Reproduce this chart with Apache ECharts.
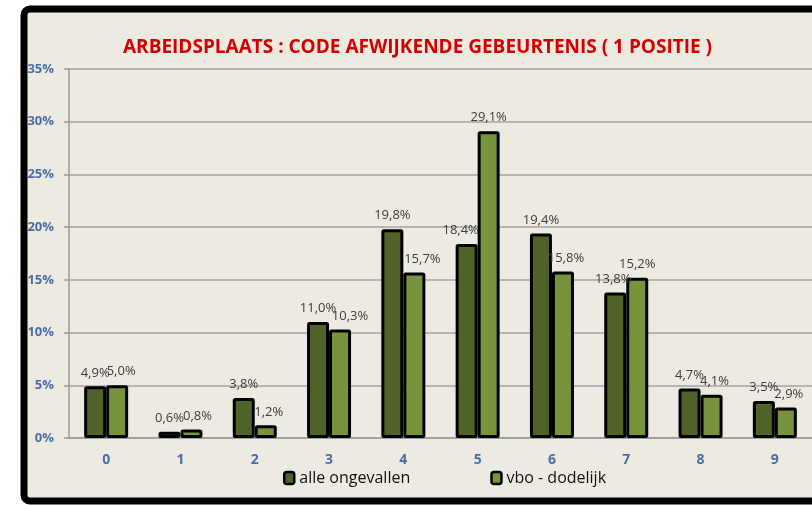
<!DOCTYPE html>
<html lang="nl">
<head>
<meta charset="UTF-8">
<title>Arbeidsplaats : code afwijkende gebeurtenis</title>
<script src="https://cdn.jsdelivr.net/npm/echarts@6.0.0/dist/echarts.min.js"></script>
<style>
  body { margin: 0; background: #fff; }
</style>
</head>
<body>
<div id="main" style="width:812px;height:505px;"></div>
<script>
  // categories (code afwijkende gebeurtenis) and the two series in %
  const categories = ['0', '1', '2', '3', '4', '5', '6', '7', '8', '9'];
  const alleOngevallen = [4.9, 0.6, 3.8, 11.0, 19.8, 18.4, 19.4, 13.8, 4.7, 3.5];
  const vboDodelijk = [5.0, 0.8, 1.2, 10.3, 15.7, 29.1, 15.8, 15.2, 4.1, 2.9];

  const chart = echarts.init(document.getElementById('main'));
  const fmt = p => p.value.toFixed(1).replace('.', ',') + '%';
  const labelStyle = {
    show: true, position: 'top', distance: 7, formatter: fmt,
    fontFamily: 'Open Sans', fontSize: 13, color: '#3c3c3c'
  };
  const blue = '#4A6DA7';
  const grey = '#9a9a9a';

  // Excel nudged some labels sideways to keep them apart (px)
  const alleNudge = { 5: -6, 7: -2 };
  const vboNudge = { 0: 4, 1: 6, 2: 3, 3: 10, 4: 8, 6: 3, 8: 3, 9: 3 };

  // the labels sit on transparent copies of the bars so no bar covers them
  const labelSeries = (name, data, nudge) => ({
    name: name, type: 'bar', xAxisIndex: 1, z: 10,
    barWidth: 22, barGap: '0%', silent: true,
    data: data.map((v, i) => ({ value: v, label: { offset: [nudge[i] || 0, 0] } })),
    itemStyle: { color: 'rgba(0,0,0,0)', borderWidth: 0 },
    label: labelStyle
  });

  chart.setOption({
    animation: false,
    textStyle: { fontFamily: 'Open Sans' },
    graphic: [
      { type: 'rect', z: -10, shape: { x: 24, y: 9, width: 900, height: 492, r: 6 },
        style: { fill: '#EDEBE1' } },
      { type: 'rect', z: 100, shape: { x: 24, y: 9, width: 900, height: 492, r: 6 },
        style: { fill: 'none', stroke: '#000', lineWidth: 7 } }
    ],
    title: {
      text: 'ARBEIDSPLAATS : CODE AFWIJKENDE GEBEURTENIS ( 1 POSITIE )',
      left: 118, top: 33,
      textStyle: { color: '#D40000', fontSize: 19, fontWeight: 'bold', fontFamily: 'Open Sans' }
    },
    legend: {
      left: 283, top: 470, padding: 0, itemWidth: 10, itemHeight: 12, itemGap: 80,
      textStyle: { fontSize: 16, color: '#111', fontFamily: 'Open Sans' },
      itemStyle: { borderColor: '#000', borderWidth: 2.5 },
      data: ['alle ongevallen', 'vbo - dodelijk']
    },
    grid: { left: 69, top: 69, width: 756, height: 369 },
    xAxis: [
      {
        type: 'category', data: categories,
        axisLine: { lineStyle: { color: grey, width: 1.5 } },
        axisTick: { length: 5, lineStyle: { color: grey, width: 1.5 } },
        axisLabel: { margin: 15, color: blue, fontWeight: 'bold', fontSize: 14 }
      },
      { type: 'category', data: categories, show: false }
    ],
    yAxis: {
      type: 'value', min: 0, max: 35, interval: 5,
      axisLine: { show: true, lineStyle: { color: grey, width: 1.5 } },
      axisTick: { show: true, length: 5, lineStyle: { color: grey, width: 1.5 } },
      axisLabel: { formatter: '{value}%', margin: 15, color: blue, fontWeight: 'bold', fontSize: 13 },
      splitLine: { lineStyle: { color: '#a3a3a3', width: 1.5 } }
    },
    series: [
      {
        name: 'alle ongevallen', type: 'bar', data: alleOngevallen,
        barWidth: 22, barGap: '0%',
        itemStyle: { color: '#4F6228', borderColor: '#000', borderWidth: 3, borderRadius: 1 }
      },
      {
        name: 'vbo - dodelijk', type: 'bar', data: vboDodelijk,
        barWidth: 22,
        itemStyle: { color: '#77933C', borderColor: '#000', borderWidth: 3, borderRadius: 1 }
      },
      labelSeries('label alle', alleOngevallen, alleNudge),
      labelSeries('label vbo', vboDodelijk, vboNudge)
    ]
  });
</script>
</body>
</html>
